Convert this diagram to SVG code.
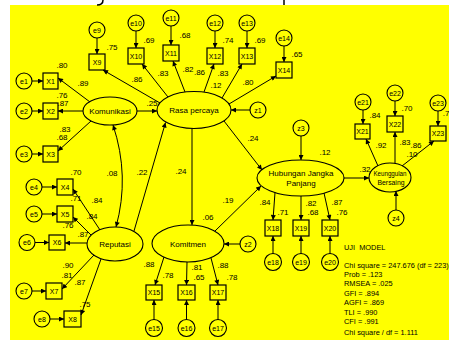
<svg xmlns="http://www.w3.org/2000/svg" width="449" height="340" viewBox="0 0 449 340">
<style>
.bx{fill:none;stroke:#000;stroke-width:1.2}
.ci{fill:none;stroke:#000;stroke-width:1.1}
.el{fill:none;stroke:#000;stroke-width:1.1}
.ln{fill:none;stroke:#000;stroke-width:1;marker-end:url(#ah)}
.t{font-family:"Liberation Sans",Arial,sans-serif;fill:#000;text-anchor:middle}
.s{font-size:7px}
.n{font-size:8px}
.l{font-size:8px}
.m{font-family:"Liberation Sans",Arial,sans-serif;font-size:7.4px;fill:#000;white-space:pre}
</style>
<defs>
<marker id="ah" viewBox="0 0 10 10" refX="10" refY="5" markerWidth="6" markerHeight="5" markerUnits="userSpaceOnUse" orient="auto-start-reverse">
<path d="M0,0 L10,5 L0,10 Z" fill="#000"/>
</marker>
</defs>
<rect x="0" y="0" width="449" height="340" fill="#fff"/>
<rect x="10" y="5" width="439" height="335" fill="#ffff00"/>
<path d="M103,0 Q103,5 97,5" fill="none" stroke="#000" stroke-width="1.5"/>
<path d="M284,0 L284,5" fill="none" stroke="#000" stroke-width="1.5"/>

<g id="connectors">
<line class="ln" x1="32" y1="81" x2="43" y2="81"/>
<line class="ln" x1="32" y1="111" x2="43" y2="111"/>
<line class="ln" x1="32" y1="154" x2="43" y2="154"/>
<line class="ln" x1="42" y1="187" x2="57" y2="187"/>
<line class="ln" x1="42" y1="214" x2="57" y2="214"/>
<line class="ln" x1="35" y1="242.5" x2="49" y2="242.5"/>
<line class="ln" x1="32" y1="291" x2="46" y2="291"/>
<line class="ln" x1="50" y1="319" x2="64" y2="319"/>
<line class="ln" x1="97" y1="38" x2="97" y2="54"/>
<line class="ln" x1="136" y1="31" x2="136" y2="48"/>
<line class="ln" x1="171" y1="26" x2="171" y2="45"/>
<line class="ln" x1="215" y1="31" x2="215" y2="48"/>
<line class="ln" x1="247" y1="31" x2="247" y2="48"/>
<line class="ln" x1="284" y1="46" x2="284" y2="62"/>
<line class="ln" x1="154" y1="319.5" x2="154" y2="300"/>
<line class="ln" x1="186.5" y1="319.5" x2="186.5" y2="300"/>
<line class="ln" x1="218" y1="319.5" x2="218" y2="300"/>
<line class="ln" x1="273" y1="253.5" x2="273" y2="236"/>
<line class="ln" x1="301" y1="253.5" x2="301" y2="236"/>
<line class="ln" x1="330" y1="253.5" x2="330" y2="236"/>
<line class="ln" x1="363" y1="110" x2="363" y2="124"/>
<line class="ln" x1="395" y1="101" x2="395" y2="116"/>
<line class="ln" x1="438" y1="111" x2="438" y2="126"/>
<line class="ln" x1="250" y1="110" x2="231" y2="110"/>
<line class="ln" x1="240" y1="244" x2="224" y2="244"/>
<line class="ln" x1="301" y1="136" x2="301" y2="160"/>
<line class="ln" x1="396" y1="210" x2="396" y2="191"/>
<line class="ln" x1="90" y1="102" x2="58" y2="78"/>
<line class="ln" x1="83" y1="111" x2="58" y2="111"/>
<line class="ln" x1="91" y1="121" x2="58" y2="151"/>
<line class="ln" x1="137" y1="111" x2="157" y2="111"/>
<line class="ln" x1="160" y1="103" x2="103" y2="70"/>
<line class="ln" x1="168" y1="97" x2="142" y2="64"/>
<line class="ln" x1="185" y1="92" x2="173" y2="61"/>
<line class="ln" x1="204" y1="92" x2="214" y2="64"/>
<line class="ln" x1="222" y1="98" x2="242" y2="64"/>
<line class="ln" x1="229" y1="104" x2="276" y2="76"/>
<line class="ln" x1="192" y1="128.5" x2="192" y2="225"/>
<line class="ln" x1="224" y1="121" x2="262" y2="170"/>
<line class="ln" x1="134" y1="231" x2="165.5" y2="122.5"/>
<line class="ln" x1="100" y1="230" x2="73" y2="189"/>
<line class="ln" x1="91" y1="235" x2="73" y2="217"/>
<line class="ln" x1="87" y1="243" x2="65" y2="243"/>
<line class="ln" x1="94" y1="255" x2="62" y2="289"/>
<line class="ln" x1="101" y1="259" x2="81" y2="315"/>
<path class="ln" d="M113,125 Q130,176 116,227" style="marker-start:url(#ah)"/>
<line class="ln" x1="164" y1="257" x2="155" y2="285"/>
<line class="ln" x1="187" y1="262" x2="186.5" y2="285"/>
<line class="ln" x1="211" y1="258" x2="218" y2="285"/>
<line class="ln" x1="215" y1="231" x2="261" y2="186"/>
<line class="ln" x1="275" y1="192.5" x2="273" y2="220"/>
<line class="ln" x1="301" y1="196" x2="301" y2="220"/>
<line class="ln" x1="324" y1="193" x2="330" y2="220"/>
<line class="ln" x1="344" y1="178" x2="369" y2="178"/>
<line class="ln" x1="378" y1="166" x2="366" y2="139"/>
<line class="ln" x1="395" y1="163.5" x2="395" y2="132"/>
<line class="ln" x1="402" y1="166" x2="434" y2="141"/>
</g>

<g id="Komunikasi"><ellipse class="el" cx="110" cy="111" rx="27" ry="14"/><text class="t l" x="110" y="114">Komunikasi</text></g>
<g id="RasaPercaya"><ellipse class="el" cx="194" cy="110" rx="37" ry="18.5"/><text class="t l" x="194" y="113" font-size="8.5">Rasa percaya</text></g>
<g id="Reputasi"><ellipse class="el" cx="115" cy="244" rx="28" ry="17"/><text class="t l" x="115" y="246.5">Reputasi</text></g>
<g id="Komitmen"><ellipse class="el" cx="188" cy="243.5" rx="36" ry="18.5"/><text class="t l" x="188" y="246.5">Komitmen</text></g>
<g id="Hubungan"><ellipse class="el" cx="300.5" cy="178" rx="43.5" ry="18"/><text class="t l" x="301" y="176">Hubungan Jangka</text><text class="t l" x="301" y="186">Panjang</text></g>
<g id="Keunggulan"><ellipse class="el" cx="390" cy="177.5" rx="21" ry="14.5"/><text class="t" font-size="6.8" x="390" y="176" textLength="33" lengthAdjust="spacingAndGlyphs">Keunggulan</text><text class="t" font-size="6.8" x="391" y="185" textLength="27" lengthAdjust="spacingAndGlyphs">Bersaing</text></g>

<g id="X1"><rect class="bx" x="43" y="73" width="15" height="16"/><text class="t s" x="50.5" y="83.5">X1</text></g>
<g id="X2"><rect class="bx" x="43" y="103" width="15" height="16"/><text class="t s" x="50.5" y="113.5">X2</text></g>
<g id="X3"><rect class="bx" x="43" y="146" width="15" height="16"/><text class="t s" x="50.5" y="156.5">X3</text></g>
<g id="X4"><rect class="bx" x="57" y="179" width="16" height="16"/><text class="t s" x="65" y="189.5">X4</text></g>
<g id="X5"><rect class="bx" x="57" y="206" width="16" height="16"/><text class="t s" x="65" y="216.5">X5</text></g>
<g id="X6"><rect class="bx" x="49" y="235" width="16" height="15"/><text class="t s" x="57" y="245">X6</text></g>
<g id="X7"><rect class="bx" x="46" y="283" width="16" height="16"/><text class="t s" x="54" y="293.5">X7</text></g>
<g id="X8"><rect class="bx" x="64" y="311" width="17" height="16"/><text class="t s" x="72.5" y="321.5">X8</text></g>
<g id="X9"><rect class="bx" x="89" y="54" width="16" height="16"/><text class="t s" x="97" y="64.5">X9</text></g>
<g id="X10"><rect class="bx" x="128" y="48" width="16" height="16"/><text class="t s" x="136" y="58.5">X10</text></g>
<g id="X11"><rect class="bx" x="163" y="45" width="16" height="16"/><text class="t s" x="171" y="55.5">X11</text></g>
<g id="X12"><rect class="bx" x="207" y="48" width="16" height="16"/><text class="t s" x="215" y="58.5">X12</text></g>
<g id="X13"><rect class="bx" x="239" y="48" width="16" height="16"/><text class="t s" x="247" y="58.5">X13</text></g>
<g id="X14"><rect class="bx" x="276" y="62" width="16" height="16"/><text class="t s" x="284" y="72.5">X14</text></g>
<g id="X15"><rect class="bx" x="146" y="285" width="16" height="15"/><text class="t s" x="154" y="295">X15</text></g>
<g id="X16"><rect class="bx" x="178" y="285" width="17" height="15"/><text class="t s" x="186.5" y="295">X16</text></g>
<g id="X17"><rect class="bx" x="210" y="285" width="16" height="15"/><text class="t s" x="218" y="295">X17</text></g>
<g id="X18"><rect class="bx" x="265" y="220" width="16" height="16"/><text class="t s" x="273" y="230.5">X18</text></g>
<g id="X19"><rect class="bx" x="293" y="220" width="16" height="16"/><text class="t s" x="301" y="230.5">X19</text></g>
<g id="X20"><rect class="bx" x="322" y="220" width="16" height="16"/><text class="t s" x="330" y="230.5">X20</text></g>
<g id="X21"><rect class="bx" x="355" y="124" width="15" height="15"/><text class="t s" x="362.5" y="134">X21</text></g>
<g id="X22"><rect class="bx" x="387" y="116" width="16" height="16"/><text class="t s" x="395" y="126.5">X22</text></g>
<g id="X23"><rect class="bx" x="430" y="126" width="16" height="15"/><text class="t s" x="438" y="136">X23</text></g>

<g id="e1"><circle class="ci" cx="24" cy="81" r="8"/><text class="t s" x="24" y="83.5">e1</text></g>
<g id="e2"><circle class="ci" cx="24" cy="111" r="8"/><text class="t s" x="24" y="113.5">e2</text></g>
<g id="e3"><circle class="ci" cx="24" cy="154" r="8"/><text class="t s" x="24" y="156.5">e3</text></g>
<g id="e4"><circle class="ci" cx="34" cy="187" r="8"/><text class="t s" x="34" y="189.5">e4</text></g>
<g id="e5"><circle class="ci" cx="34" cy="214" r="8"/><text class="t s" x="34" y="216.5">e5</text></g>
<g id="e6"><circle class="ci" cx="27" cy="242.5" r="8"/><text class="t s" x="27" y="245">e6</text></g>
<g id="e7"><circle class="ci" cx="24" cy="291" r="8"/><text class="t s" x="24" y="293.5">e7</text></g>
<g id="e8"><circle class="ci" cx="42" cy="319" r="8"/><text class="t s" x="42" y="321.5">e8</text></g>
<g id="e9"><circle class="ci" cx="97" cy="30" r="8"/><text class="t s" x="97" y="32.5">e9</text></g>
<g id="e10"><circle class="ci" cx="136" cy="23" r="8"/><text class="t s" x="136" y="25.5">e10</text></g>
<g id="e11"><circle class="ci" cx="171" cy="18" r="8"/><text class="t s" x="171" y="20.5">e11</text></g>
<g id="e12"><circle class="ci" cx="215" cy="23" r="8"/><text class="t s" x="215" y="25.5">e12</text></g>
<g id="e13"><circle class="ci" cx="247" cy="23" r="8"/><text class="t s" x="247" y="25.5">e13</text></g>
<g id="e14"><circle class="ci" cx="284" cy="38" r="8"/><text class="t s" x="284" y="40.5">e14</text></g>
<g id="e15"><circle class="ci" cx="154" cy="328" r="8.5"/><text class="t s" x="154" y="330.5">e15</text></g>
<g id="e16"><circle class="ci" cx="186.5" cy="328" r="8.5"/><text class="t s" x="186.5" y="330.5">e16</text></g>
<g id="e17"><circle class="ci" cx="218" cy="328" r="8.5"/><text class="t s" x="218" y="330.5">e17</text></g>
<g id="e18"><circle class="ci" cx="273" cy="262" r="8.5"/><text class="t s" x="273" y="264.5">e18</text></g>
<g id="e19"><circle class="ci" cx="301" cy="262" r="8.5"/><text class="t s" x="301" y="264.5">e19</text></g>
<g id="e20"><circle class="ci" cx="330" cy="262" r="8.5"/><text class="t s" x="330" y="264.5">e20</text></g>
<g id="e21"><circle class="ci" cx="363" cy="102" r="8"/><text class="t s" x="363" y="104.5">e21</text></g>
<g id="e22"><circle class="ci" cx="395" cy="93" r="8"/><text class="t s" x="395" y="95.5">e22</text></g>
<g id="e23"><circle class="ci" cx="438" cy="103" r="8"/><text class="t s" x="438" y="105.5">e23</text></g>
<g id="z1"><circle class="ci" cx="258" cy="110" r="8"/><text class="t s" x="258" y="112.5">z1</text></g>
<g id="z2"><circle class="ci" cx="248" cy="244" r="8"/><text class="t s" x="248" y="246.5">z2</text></g>
<g id="z3"><circle class="ci" cx="301" cy="128" r="8"/><text class="t s" x="301" y="130.5">z3</text></g>
<g id="z4"><circle class="ci" cx="396" cy="218" r="8"/><text class="t s" x="396" y="220.5">z4</text></g>

<g id="estimates" class="t n">
<text x="112" y="50">.75</text>
<text x="149" y="43">.69</text>
<text x="185" y="38">.68</text>
<text x="228" y="43">.74</text>
<text x="260" y="43">.69</text>
<text x="297" y="57">.65</text>
<text x="62" y="68">.80</text>
<text x="83" y="86">.89</text>
<text x="137" y="82">.86</text>
<text x="163" y="76">.83</text>
<text x="188" y="72">.82</text>
<text x="199.5" y="75">.86</text>
<text x="223" y="76">.83</text>
<text x="216" y="88">.12</text>
<text x="248" y="85">.80</text>
<text x="62" y="98">.76</text>
<text x="63" y="106">.87</text>
<text x="152" y="106">.25</text>
<text x="65" y="132">.83</text>
<text x="62" y="140">.68</text>
<text x="253" y="141">.24</text>
<text x="325" y="155">.12</text>
<text x="375" y="118">.84</text>
<text x="407" y="111">.70</text>
<text x="446" y="116">.7</text>
<text x="381" y="148">.92</text>
<text x="405" y="145">.83</text>
<text x="416" y="148">.86</text>
<text x="412" y="157">.10</text>
<text x="365" y="172">.32</text>
<text x="112" y="176">.08</text>
<text x="142" y="175">.22</text>
<text x="76" y="175">.70</text>
<text x="181" y="174">.24</text>
<text x="76" y="201">.71</text>
<text x="97" y="203">.84</text>
<text x="92" y="219">.84</text>
<text x="68" y="228">.76</text>
<text x="83" y="237">.87</text>
<text x="228" y="203">.19</text>
<text x="208" y="220">.06</text>
<text x="265" y="205">.84</text>
<text x="283" y="215">.71</text>
<text x="311" y="206">.82</text>
<text x="313" y="215">.68</text>
<text x="337" y="205">.87</text>
<text x="342" y="215">.76</text>
<text x="68" y="268">.90</text>
<text x="67" y="278">.81</text>
<text x="80" y="285">.87</text>
<text x="85" y="307">.75</text>
<text x="149" y="267">.88</text>
<text x="168" y="278">.78</text>
<text x="197" y="270">.81</text>
<text x="199" y="280">.65</text>
<text x="223" y="268">.88</text>
<text x="232" y="280">.78</text>
</g>

<g id="fit">
<text class="m" x="344" y="249.7">UJI  MODEL</text>
<text class="m" x="344" y="267.7">Chi square = 247.676 (df = 223)</text>
<text class="m" x="344" y="276.7">Prob = .123</text>
<text class="m" x="344" y="285.7">RMSEA = .025</text>
<text class="m" x="344" y="295.7">GFI = .894</text>
<text class="m" x="344" y="304.7">AGFI = .869</text>
<text class="m" x="344" y="314.7">TLI = .990</text>
<text class="m" x="344" y="323.7">CFI = .991</text>
<text class="m" x="344" y="334.7">Chi square / df = 1.111</text>
</g>
</svg>
